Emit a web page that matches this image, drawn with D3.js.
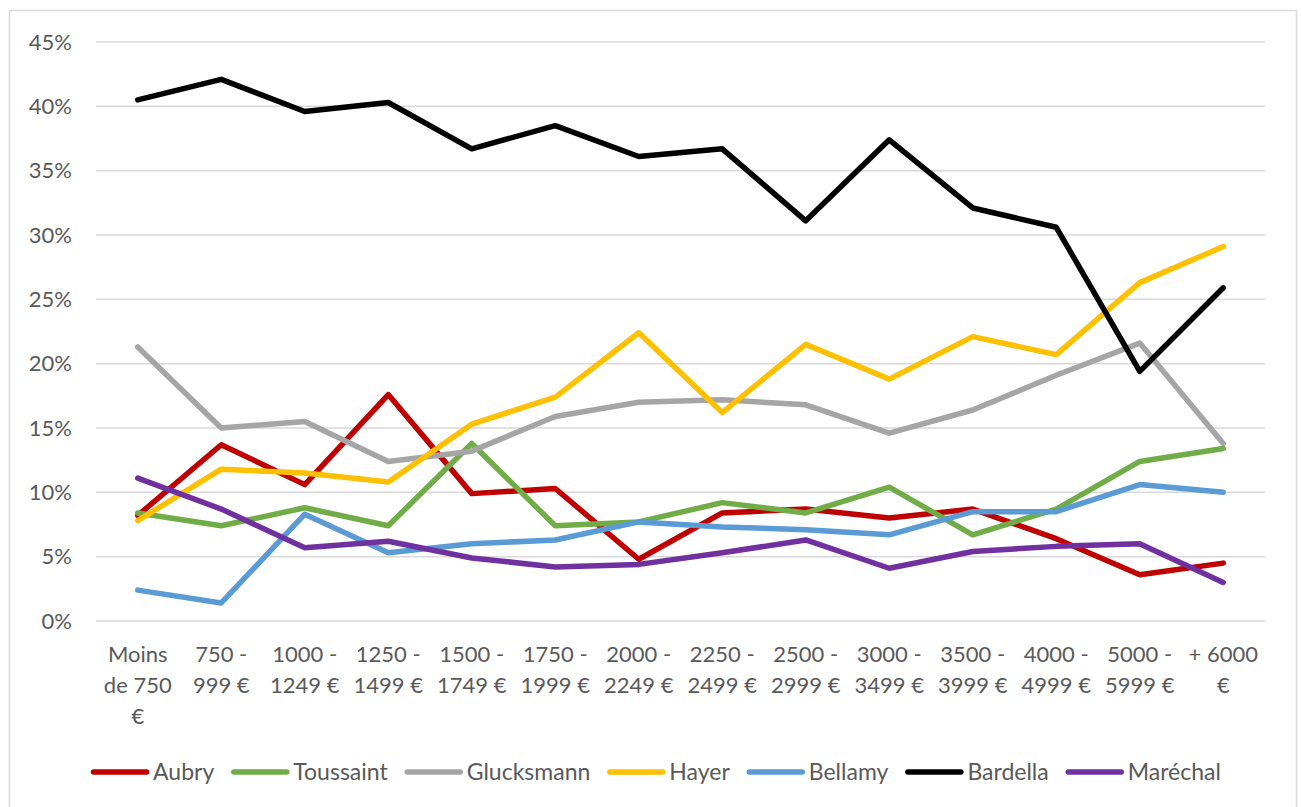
<!DOCTYPE html>
<html>
<head>
<meta charset="utf-8">
<script src="https://cdn.jsdelivr.net/npm/d3@7"></script>
<style>
  body { margin: 0; background: #fff; }
  text { font-family: Lato, "Open Sans", sans-serif; fill: #595959; }
</style>
</head>
<body>
<div id="chart"></div>
<script>
const categories = [
  "Moins de 750 €", "750 - 999 €", "1000 - 1249 €", "1250 - 1499 €", "1500 - 1749 €",
  "1750 - 1999 €", "2000 - 2249 €", "2250 - 2499 €", "2500 - 2999 €", "3000 - 3499 €",
  "3500 - 3999 €", "4000 - 4999 €", "5000 - 5999 €", "+ 6000 €"
];
// wrapped tick labels, as shown under the axis
const tickLines = [
  ["Moins", "de 750", "€"], ["750 -", "999 €"], ["1000 -", "1249 €"], ["1250 -", "1499 €"],
  ["1500 -", "1749 €"], ["1750 -", "1999 €"], ["2000 -", "2249 €"], ["2250 -", "2499 €"],
  ["2500 -", "2999 €"], ["3000 -", "3499 €"], ["3500 -", "3999 €"], ["4000 -", "4999 €"],
  ["5000 -", "5999 €"], ["+ 6000", "€"]
];
const yTicks = [0, 5, 10, 15, 20, 25, 30, 35, 40, 45];

const seriesNames = ["Aubry", "Toussaint", "Glucksmann", "Hayer", "Bellamy", "Bardella", "Maréchal"];
const seriesColors = ["#C00000", "#70AD47", "#A5A5A5", "#FFC000", "#5B9BD5", "#000000", "#7030A0"];

const aubry      = [8.2, 13.7, 10.6, 17.6, 9.9, 10.3, 4.8, 8.4, 8.7, 8.0, 8.7, 6.4, 3.6, 4.5];
const toussaint  = [8.4, 7.4, 8.8, 7.4, 13.8, 7.4, 7.7, 9.2, 8.4, 10.4, 6.7, 8.7, 12.4, 13.4];
const glucksmann = [21.3, 15.0, 15.5, 12.4, 13.2, 15.9, 17.0, 17.2, 16.8, 14.6, 16.4, 19.1, 21.6, 13.8];
const hayer      = [7.8, 11.8, 11.5, 10.8, 15.3, 17.4, 22.4, 16.2, 21.5, 18.8, 22.1, 20.7, 26.3, 29.1];
const bellamy    = [2.4, 1.4, 8.3, 5.3, 6.0, 6.3, 7.7, 7.3, 7.1, 6.7, 8.5, 8.5, 10.6, 10.0];
const bardella   = [40.5, 42.1, 39.6, 40.3, 36.7, 38.5, 36.1, 36.7, 31.1, 37.4, 32.1, 30.6, 19.4, 25.9];
const marechal   = [11.1, 8.7, 5.7, 6.2, 4.9, 4.2, 4.4, 5.3, 6.3, 4.1, 5.4, 5.8, 6.0, 3.0];

const seriesValues = [aubry, toussaint, glucksmann, hayer, bellamy, bardella, marechal];

const W = 1301, H = 807;
const margin = { top: 42, right: 36, bottom: 186, left: 96 };
const width = W - margin.left - margin.right;
const height = H - margin.top - margin.bottom;

const svg = d3.select("#chart").append("svg")
  .attr("width", W)
  .attr("height", H);

// chart frame
svg.append("rect")
  .attr("x", 9.5).attr("y", 10.5)
  .attr("width", 1287).attr("height", 810)
  .attr("fill", "none")
  .attr("stroke", "#d9d9d9")
  .attr("stroke-width", 1.5);

const g = svg.append("g")
  .attr("transform", `translate(${margin.left},${margin.top})`);

const x = d3.scaleBand().domain(categories).range([0, width]);
const y = d3.scaleLinear().domain([0, 45]).range([height, 0]);

// gridlines
g.selectAll(".grid")
  .data(yTicks)
  .enter().append("line")
  .attr("x1", 0).attr("x2", width)
  .attr("y1", d => y(d)).attr("y2", d => y(d))
  .attr("stroke", "#d9d9d9")
  .attr("stroke-width", 1.5);

// y axis labels
const yAxis = g.append("g")
  .call(d3.axisLeft(y).tickValues(yTicks).tickFormat(d => d + "%").tickSize(0).tickPadding(24));
yAxis.select(".domain").remove();
yAxis.selectAll("text")
  .attr("font-family", "Lato, sans-serif")
  .style("font-size", "22px")
  .attr("fill", "#595959");

// x axis labels (multi-line)
const xAxis = g.append("g")
  .attr("transform", `translate(0,${height})`)
  .call(d3.axisBottom(x).tickSize(0).tickFormat(""));
xAxis.select(".domain").remove();
xAxis.selectAll(".tick").each(function(d, i) {
  const t = d3.select(this).append("text")
    .attr("text-anchor", "middle")
    .style("font-size", "22px")
    .attr("fill", "#595959");
  tickLines[i].forEach((line, k) => {
    t.append("tspan").attr("x", 0).attr("y", 41 + k * 31).text(line);
  });
});

// lines
const line = d3.line()
  .x((d, i) => x(categories[i]) + x.bandwidth() / 2)
  .y(d => y(d));

seriesValues.forEach((vals, s) => {
  g.append("path")
    .datum(vals)
    .attr("d", line)
    .attr("fill", "none")
    .attr("stroke", seriesColors[s])
    .attr("stroke-width", 5.5)
    .attr("stroke-linejoin", "round")
    .attr("stroke-linecap", "round");
});

// legend
const legend = svg.append("g");
let cursor = 0;
seriesNames.forEach((name, s) => {
  const item = legend.append("g");
  item.append("line")
    .attr("x1", 2.5).attr("x2", 55.5)
    .attr("y1", 0).attr("y2", 0)
    .attr("stroke", seriesColors[s])
    .attr("stroke-width", 5.5)
    .attr("stroke-linecap", "round");
  const txt = item.append("text")
    .attr("x", 62).attr("y", 0).attr("dy", "0.35em")
    .style("font-size", "23px")
    .attr("fill", "#595959")
    .text(name);
  const w = 62 + txt.node().getComputedTextLength();
  item.attr("transform", `translate(${cursor},0)`);
  cursor += w + (s < seriesNames.length - 1 ? 17 : 0);
});
legend.attr("transform", `translate(${656 - cursor / 2},772)`);
</script>
</body>
</html>
